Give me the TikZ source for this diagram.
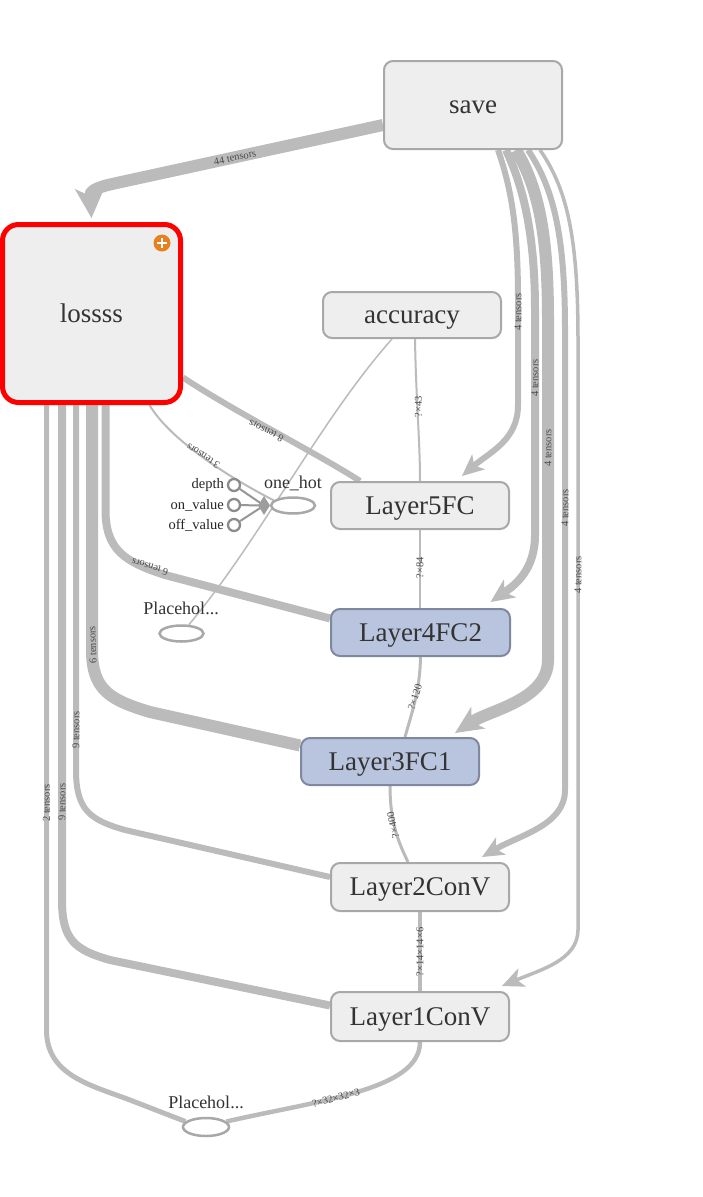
\documentclass[tikz,border=0pt]{standalone}
\usepackage{fontspec}
\setmainfont{Liberation Serif}
\usetikzlibrary{arrows.meta,shapes.geometric}
\definecolor{edgegray}{HTML}{BBBBBB}
\definecolor{boxfill}{HTML}{EEEEEE}
\definecolor{boxline}{HTML}{A8A8A8}
\definecolor{bluefill}{HTML}{B9C4DE}
\definecolor{blueline}{HTML}{7F889E}
\definecolor{txt}{HTML}{333333}
\definecolor{lbl}{HTML}{4A4A4A}
\definecolor{plusorange}{HTML}{E8801E}
\definecolor{cgray}{HTML}{8C8C8C}
\pgfdeclarelayer{bg}
\pgfdeclarelayer{edges}
\pgfsetlayers{bg,edges,main}
\tikzset{
  opbox/.style={draw=boxline, fill=boxfill, line width=2pt, rounded corners=9pt, text=txt,
    font=\fontsize{27}{30}\selectfont, minimum width=178pt, inner sep=0pt,
    text height=17pt, text depth=0pt},
  bluebox/.style={opbox, draw=blueline, fill=bluefill},
  ph/.style={ellipse, draw=boxline, fill=white, line width=2.5pt, minimum width=44pt,
    minimum height=16pt, inner sep=0pt},
  smalltxt/.style={text=txt, font=\fontsize{18}{20}\selectfont, inner sep=0pt},
  cnstlbl/.style={text=black!85, font=\fontsize{14.5}{16}\selectfont, inner sep=0pt, anchor=east},
  cnst/.style={circle, draw=cgray, line width=2.3pt, minimum size=12pt, inner sep=0pt, fill=white},
  conn/.style={draw=edgegray, line cap=butt},
  elab/.style={text=lbl, font=\fontsize{10.5}{11}\selectfont, inner sep=0pt},
  bigarrow/.style={-{Stealth[length=30pt, width=30pt, inset=8pt, line width=0pt]}},
  arrowm/.style={-{Stealth[length=24pt, width=22pt, inset=7pt, line width=0pt]}},
  arrowl/.style={-{Stealth[length=28pt, width=26pt, inset=8pt, line width=0pt]}},
  arrowsm/.style={-{Stealth[length=22pt, width=20pt, inset=6pt, line width=0pt]}},
}
\begin{document}
\begin{tikzpicture}[x=1pt, y=-1pt]
\useasboundingbox (0,0) rectangle (703,1197);
\begin{pgfonlayer}{bg}
  \fill[white] (0,0) rectangle (703,1197);
\end{pgfonlayer}

% nodes
\node[opbox, minimum height=88pt] (save) at (473,105) {save};
\node[opbox, draw=red, line width=5pt, minimum width=178pt, minimum height=178pt,
      rounded corners=16pt] (lossss) at (91.5,313.5) {lossss};
\node[circle, fill=plusorange, minimum size=17pt, inner sep=0pt] (plus) at (162,243) {};
\draw[white, line width=2.6pt] ([xshift=-5pt]plus.center) -- ([xshift=5pt]plus.center);
\draw[white, line width=2.6pt] ([yshift=-5pt]plus.center) -- ([yshift=5pt]plus.center);
\node[opbox, minimum height=46pt] (accuracy) at (412,315) {accuracy};
\node[opbox, minimum height=47pt] (L5) at (420,505.5) {Layer5FC};
\node[bluebox, minimum height=47pt, minimum width=179pt] (L4) at (420.5,632.5) {Layer4FC2};
\node[bluebox, minimum height=47pt] (L3) at (390,761.5) {Layer3FC1};
\node[opbox, minimum height=48pt] (L2) at (420,887) {Layer2ConV};
\node[opbox, minimum height=49pt] (L1) at (420,1016.5) {Layer1ConV};

\node[ph] (onehot) at (293,505.5) {};
\node[smalltxt] (onehotlbl) at (293,483) {one\_hot};
\node[ph] (phm) at (181.5,633.5) {};
\node[smalltxt] (phmlbl) at (181,608) {Placehol...};
\node[ph, minimum width=46pt, minimum height=18pt] (phb) at (206,1127) {};
\node[smalltxt] (phblbl) at (206,1102) {Placehol...};

\node[cnst] (depth) at (234,485) {};
\node[cnst] (onval) at (234,505) {};
\node[cnst] (offval) at (234,525) {};
\node[cnstlbl] (depthlbl) at (224,485) {depth};
\node[cnstlbl] (onvallbl) at (224,505) {on\_value};
\node[cnstlbl] (offvallbl) at (224,525) {off\_value};
\node[diamond, fill=cgray!85, inner sep=0pt, minimum width=12pt, minimum height=19pt] (dmd) at (264,505.5) {};

% edges
\begin{pgfonlayer}{edges}
  \draw[conn, line width=12pt, bigarrow] ([yshift=-20pt]save.west) -- (112,184)
     .. controls (94,188) and (90,192) .. ([yshift=4pt]lossss.north);
  \draw[conn, line width=6pt, arrowsm] ([xshift=25pt]save.south) .. controls (512,190) and (518,230) .. (518,300)
     -- (518,405) .. controls (518,440) and (490,452) .. ([xshift=42pt,yshift=5pt]L5.north);
  \draw[conn, line width=8pt, arrowm] ([xshift=33pt]save.south) .. controls (525,190) and (535,240) .. (535,310)
     -- (535,535) .. controls (535,570) and (515,585) .. ([xshift=70pt,yshift=6pt]L4.north);
  \draw[conn, line width=12pt, arrowl] ([xshift=43pt]save.south) .. controls (540,190) and (548,240) .. (548,320)
     -- (548,660) .. controls (548,700) and (490,710) .. ([xshift=65pt,yshift=4pt]L3.north);
  \draw[conn, line width=6pt, arrowsm] ([xshift=55pt]save.south) .. controls (555,190) and (565,240) .. (565,330)
     -- (565,790) .. controls (565,825) and (520,835) .. ([xshift=62pt,yshift=5pt]L2.north);
  \draw[conn, line width=3.5pt, arrowsm] ([xshift=67pt]save.south) .. controls (568,190) and (578,240) .. (578,340)
     -- (578,930) .. controls (578,960) and (540,970) .. ([xshift=82pt,yshift=5pt]L1.north);

  \draw[conn, line width=5pt] ([xshift=-45pt]lossss.south) -- (46.5,1030)
     .. controls (46.5,1075) and (90,1085) .. (130,1100) -- (phb.165);
  \draw[conn, line width=8pt] ([xshift=-29.5pt]lossss.south) -- (62,900)
     .. controls (62,940) and (75,950) .. (110,960) -- ([yshift=11pt]L1.west);
  \draw[conn, line width=6pt] ([xshift=-15.5pt]lossss.south) -- (76,770)
     .. controls (76,810) and (90,820) .. (125,830) -- ([yshift=10pt]L2.west);
  \draw[conn, line width=12pt] ([xshift=0.5pt]lossss.south) -- (92,650)
     .. controls (92,690) and (110,700) .. (150,712) -- ([yshift=16pt]L3.west);
  \draw[conn, line width=8pt] ([xshift=14pt]lossss.south) -- (105.5,510)
     .. controls (105.5,550) and (125,562) .. (165,575) -- ([yshift=14pt]L4.west);
  \draw[conn, line width=6pt] ([yshift=-64pt]lossss.east) .. controls (235,412) and (320,455) .. ([xshift=-60pt]L5.north);
  \draw[conn, line width=2pt] ([xshift=58pt]lossss.south) .. controls (170,440) and (230,478) .. (onehot.165);

  \draw[conn, line width=1.5pt] (phm.50) .. controls (260,540) and (320,420) .. ([xshift=-20pt]accuracy.south);
  \draw[conn, line width=2pt] ([xshift=3pt]accuracy.south) .. controls (416,400) and (420,440) .. (L5.north);
  \draw[conn, line width=2pt] (L5.south) -- ([xshift=-0.5pt]L4.north);
  \draw[conn, line width=3pt] (L4.south) .. controls (420,690) and (412,712) .. ([xshift=15pt]L3.north);
  \draw[conn, line width=3pt] (L3.south) .. controls (390,825) and (400,845) .. ([xshift=-12pt]L2.north);
  \draw[conn, line width=4pt] (L2.south) -- (L1.north);
  \draw[conn, line width=4.5pt] (phb.15) .. controls (320,1100) and (420,1090) .. (L1.south);

  \draw[draw=cgray!90, line width=2pt] (depth) -- (dmd.center);
  \draw[draw=cgray!90, line width=2pt] (onval) -- (dmd.center);
  \draw[draw=cgray!90, line width=2pt] (offval) -- (dmd.center);
\end{pgfonlayer}

% edge labels
\node[elab, rotate=12] (t44) at (235,157.5) {44 tensors};
\node[elab, rotate=90] (t4a) at (518,312) {4 tensors};
\node[elab, rotate=90] (t4b) at (535,378) {4 tensors};
\node[elab, rotate=90] (t4c) at (548,448) {4 tensors};
\node[elab, rotate=90] (t4d) at (565,508) {4 tensors};
\node[elab, rotate=90] (t4e) at (578,575) {4 tensors};
\node[elab, rotate=153] (t8) at (266,431) {8 tensors};
\node[elab, rotate=147] (t3) at (203,456) {3 tensors};
\node[elab, rotate=163] (t6a) at (150,567) {6 tensors};
\node[elab, rotate=92] (t6b) at (92.5,645) {6 tensors};
\node[elab, rotate=90] (t9a) at (76,730) {9 tensors};
\node[elab, rotate=90] (t9b) at (62,802) {9 tensors};
\node[elab, rotate=90] (t2) at (46.5,803) {2 tensors};
\node[elab, rotate=90] (s43) at (418.5,407) {?×43};
\node[elab, rotate=90] (s84) at (420,568) {?×84};
\node[elab, rotate=72] (s120) at (415,697) {?×120};
\node[elab, rotate=103] (s400) at (393,825) {?×400};
\node[elab, rotate=90] (s14) at (420,952) {?×14×14×6};
\node[elab, rotate=15] (s32) at (336,1098) {?×32×32×3};
\end{tikzpicture}
\end{document}
